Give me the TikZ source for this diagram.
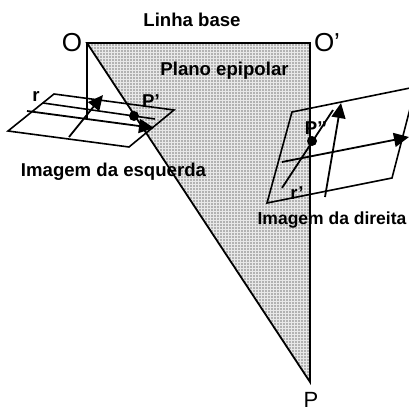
\documentclass[tikz,border=0pt]{standalone}
\usepackage{fontspec}
\setmainfont{Liberation Sans}
\usetikzlibrary{arrows.meta,patterns}
\tikzset{
    label text/.style={font=\bfseries\fontsize{18.6}{19}\selectfont, inner sep=0pt},
    point text/.style={font=\fontsize{26}{26}\selectfont, inner sep=0pt},
    ray/.style={line width=1.8pt},
    arrow line/.style={line width=1.8pt, -{Triangle[length=15pt,width=14pt]}},
    image line/.style={line width=1.6pt},
    dot/.style={circle, fill=black, inner sep=0pt, minimum size=10pt}
}
\begin{document}
\begin{tikzpicture}[x=1pt,y=-1pt]
    \useasboundingbox (0,0) rectangle (409,412);
    \clip (0,0) rectangle (409,412);

    % Draw epipolar plane
    \coordinate (O) at (87,43);
    \coordinate (Oprime) at (310,43);
    \coordinate (P) at (310,382);
    \fill[black!30] (O) -- (Oprime) -- (P) -- cycle;
    \fill[pattern=grid, pattern color=white!70!black!30] (O) -- (Oprime) -- (P) -- cycle;
    \draw[ray] (O) -- (Oprime) -- (P) -- cycle;

    % Left image
    \coordinate (la) at (54,94);
    \coordinate (lb) at (174,110);
    \coordinate (lc) at (129,147);
    \coordinate (ld) at (8,131);
    \coordinate (rayend) at (87,118);
    \draw[ray] (O) -- (rayend);
    \draw[image line] (la) -- (lb) -- (lc) -- (ld) -- cycle;
    \coordinate (lr1) at (43,103);
    \coordinate (lr2) at (155,119);
    \draw[image line] (lr1) -- (lr2);
    \coordinate (lh1) at (27,111);
    \coordinate (lh2) at (154,128);
    \draw[arrow line] (lh1) -- (lh2);
    \coordinate (lv1) at (69,137);
    \coordinate (lv2) at (103,95);
    \draw[arrow line] (lv1) -- (lv2);
    \node[dot] (Pleft) at (134,116) {};

    % Right image
    \coordinate (ra) at (292,112);
    \coordinate (rb) at (415,87);
    \coordinate (rc) at (392,178);
    \coordinate (rd) at (267,203);
    \coordinate (re) at (412,101);
    \draw[image line] (rb) -- (ra) -- (rd) -- (rc) -- (re);
    \coordinate (rh1) at (282,162);
    \coordinate (rh2) at (409,137);
    \draw[arrow line] (rh1) -- (rh2);
    \coordinate (rv1) at (325,197);
    \coordinate (rv2) at (341,103);
    \coordinate (rr1) at (282,188);
    \coordinate (rr2) at (333,110);
    \draw[ray] (rr1) -- (rr2);
    \draw[arrow line] (rv1) -- (rv2);
    \node[dot] (Pright) at (312,141) {};

    % Labels
    \node[label text] (base) at (192,20) {Linha base};
    \node[label text] (plane) at (224.5,71) {Plano epipolar};
    \node[label text] (leftimg) at (113.5,172) {Imagem da esquerda};
    \node[label text, font=\bfseries\fontsize{17.5}{18}\selectfont] (rightimg) at (332,220) {Imagem da direita};
    \node[label text] (rl) at (36,96) {r};
    \node[label text] (rr) at (297,193) {r’};
    \node[label text] (Pl) at (151,101) {P’};
    \node[label text] (Pr) at (316,128) {P’’};
    \node[point text] (Olabel) at (72,43) {O};
    \node[point text] (Oplabel) at (327,43) {O’};
    \node[point text, font=\fontsize{22}{22}\selectfont] (Plabel) at (311,400) {P};
\end{tikzpicture}
\end{document}
